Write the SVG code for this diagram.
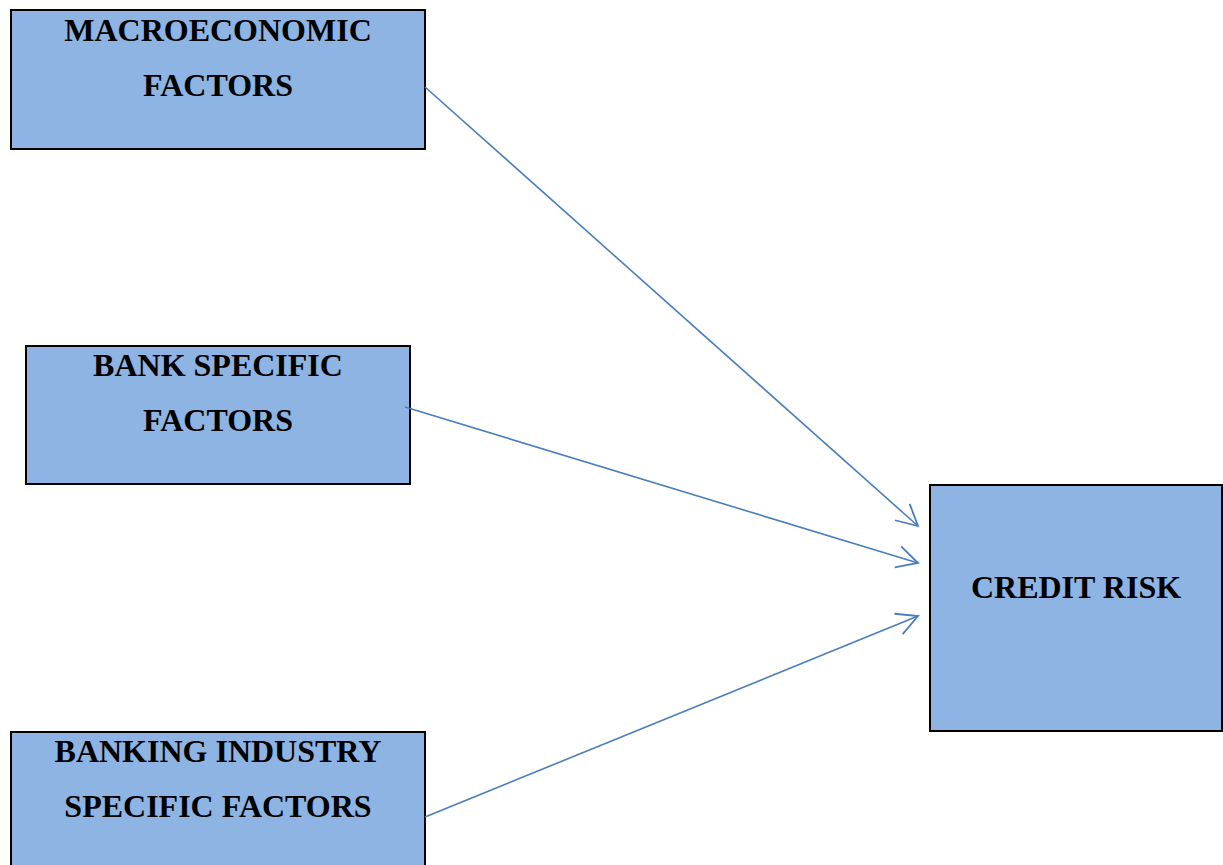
<svg xmlns="http://www.w3.org/2000/svg" width="1223" height="865" viewBox="0 0 1223 865">
<style>
.box{fill:#8EB4E3;stroke:#000;stroke-width:2}
.t{font-family:"Liberation Serif","Times New Roman",serif;font-weight:bold;font-size:32px;fill:#000;text-anchor:middle}
.c{stroke:#4A7EBB;stroke-width:1.6;fill:none}
</style>
<defs>
<marker id="arr" markerWidth="26" markerHeight="26" refX="22" refY="13" orient="auto" markerUnits="userSpaceOnUse" viewBox="0 0 26 26">
<path d="M1,2 L22,13 L1,24" fill="none" stroke="#4A7EBB" stroke-width="1.8"/>
</marker>
</defs>
<rect width="1223" height="865" fill="#fff"/>
<g id="macro">
<rect class="box" x="11" y="10" width="414" height="139"/>
<text class="t" x="218" y="41">MACROECONOMIC</text>
<text class="t" x="218" y="96">FACTORS</text>
</g>
<g id="bank">
<rect class="box" x="26" y="346" width="384" height="138"/>
<text class="t" x="218" y="376">BANK SPECIFIC</text>
<text class="t" x="218" y="431">FACTORS</text>
</g>
<g id="industry">
<rect class="box" x="11" y="732" width="414" height="140"/>
<text class="t" x="218" y="762">BANKING INDUSTRY</text>
<text class="t" x="218" y="817">SPECIFIC FACTORS</text>
</g>
<g id="credit">
<rect class="box" x="930" y="485" width="292" height="246"/>
<text class="t" x="1076" y="598">CREDIT RISK</text>
</g>
<g id="connectors">
<line class="c" x1="425" y1="87" x2="918" y2="526" marker-end="url(#arr)"/>
<line class="c" x1="405" y1="407" x2="918" y2="563" marker-end="url(#arr)"/>
<line class="c" x1="425" y1="817" x2="918" y2="616" marker-end="url(#arr)"/>
</g>
</svg>
